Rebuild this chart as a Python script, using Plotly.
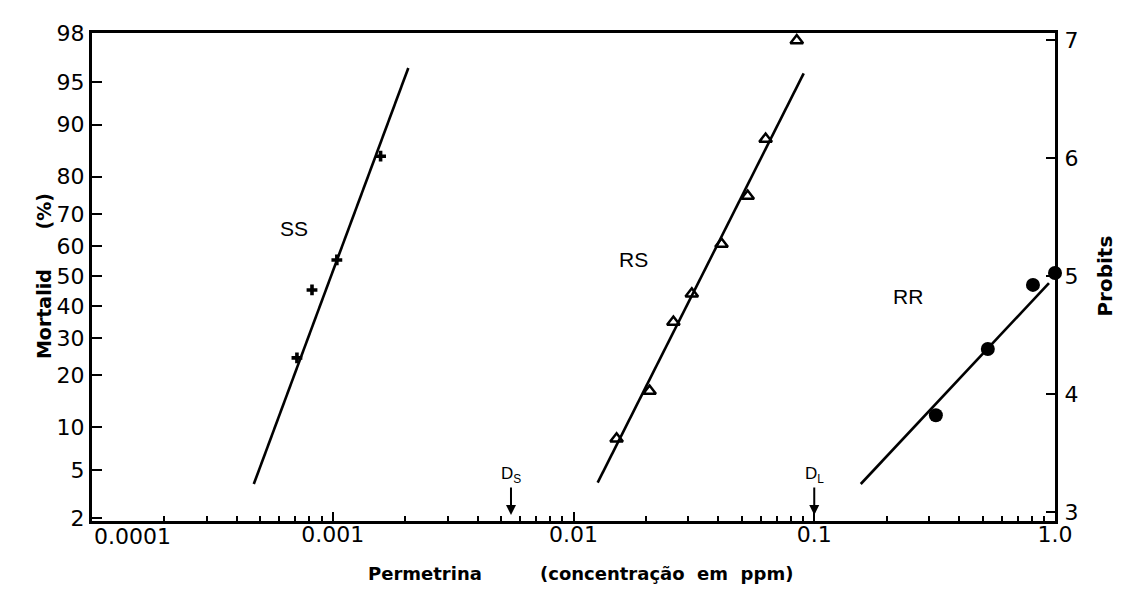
import math
import statistics
import plotly.graph_objects as go

# ---------------- data ----------------
pct_ticks = [2, 5, 10, 20, 30, 40, 50, 60, 70, 80, 90, 95, 98]
probit_ticks = [3, 4, 5, 6, 7]
x_major = [0.001, 0.01, 0.1, 1.0]
x_major_text = ["0.001", "0.01", "0.1", "1.0"]

ss_conc = [0.00071, 0.00082, 0.00104, 0.00158]
ss_mort = [24.4, 45.3, 55.4, 84.5]
ss_fit_conc = [0.00047, 0.00206]
ss_fit_mort = [3.9, 96.1]

rs_conc = [0.0151, 0.0207, 0.0260, 0.0310, 0.0412, 0.0529, 0.0628, 0.0846]
rs_mort = [8.4, 16.5, 34.8, 44.0, 60.7, 75.1, 87.7, 97.7]
rs_fit_conc = [0.0126, 0.0904]
rs_fit_mort = [4.0, 95.7]

rr_conc = [0.320, 0.526, 0.810, 1.0]
rr_mort = [11.9, 26.8, 47.0, 51.0]
rr_fit_conc = [0.156, 0.944]
rr_fit_mort = [3.9, 47.6]

d_s = 0.0055
d_l = 0.1

curve_names = ["SS", "RS", "RR"]
curve_label_conc = [0.00069, 0.0178, 0.245]
curve_label_mort = [65.5, 55.4, 43.0]

# ---------------- helpers ----------------
nd = statistics.NormalDist()


def probit(p):
    return 5 + nd.inv_cdf(p / 100.0)


Y_RANGE = [2.924, 7.059]
FONT = "DejaVu Sans"
TICKSIZE = 22

fig = go.Figure()


def add_series(conc, mort, fit_conc, fit_mort, marker):
    fig.add_trace(go.Scatter(
        x=fit_conc, y=[probit(m) for m in fit_mort], mode="lines",
        line=dict(color="black", width=2.6), showlegend=False,
        hoverinfo="skip"))
    fig.add_trace(go.Scatter(
        x=conc, y=[probit(m) for m in mort], mode="markers",
        marker=marker, showlegend=False, cliponaxis=False))


add_series(ss_conc, ss_mort, ss_fit_conc, ss_fit_mort,
           dict(symbol="cross", size=9, color="black", line=dict(width=0)))
add_series(rs_conc, rs_mort, rs_fit_conc, rs_fit_mort,
           dict(symbol="triangle-up-open", size=11, color="black",
                line=dict(width=2.5, color="black")))
add_series(rr_conc, rr_mort, rr_fit_conc, rr_fit_mort,
           dict(symbol="circle", size=14, color="black"))

# invisible trace on right axis so it is drawn
fig.add_trace(go.Scatter(x=[1e-4], y=[5], yaxis="y2", mode="markers",
                         marker=dict(opacity=0), showlegend=False,
                         hoverinfo="skip"))

minor_vals = [k * 10 ** e for e in range(-4, 0) for k in range(2, 10)]

fig.update_layout(
    width=1127, height=589,
    margin=dict(l=84, r=80, t=25, b=76),
    paper_bgcolor="white", plot_bgcolor="white",
    font=dict(family=FONT, color="black", size=TICKSIZE),
    xaxis=dict(
        type="log", range=[-4, 0],
        tickvals=x_major, ticktext=x_major_text,
        ticks="inside", ticklen=9, tickwidth=2, tickcolor="black",
        showline=True, linewidth=2.5, linecolor="black", mirror=True,
        showgrid=False, zeroline=False,
        ticklabelstandoff=-8,
        tickfont=dict(family=FONT, size=TICKSIZE),
        minor=dict(tickvals=minor_vals, ticks="inside", ticklen=5,
                   tickwidth=1.5, tickcolor="black", showgrid=False),
    ),
    yaxis=dict(
        range=Y_RANGE,
        tickvals=[probit(p) for p in pct_ticks],
        ticktext=[str(p) for p in pct_ticks],
        ticks="inside", ticklen=10, tickwidth=2, tickcolor="black",
        showline=True, linewidth=3, linecolor="black",
        showgrid=False, zeroline=False,
        ticklabelstandoff=0,
        tickfont=dict(family=FONT, size=TICKSIZE),
    ),
    yaxis2=dict(
        range=Y_RANGE, overlaying="y", side="right",
        tickvals=probit_ticks, ticktext=[str(v) for v in probit_ticks],
        ticks="inside", ticklen=9, tickwidth=2, tickcolor="black",
        showline=True, linewidth=3, linecolor="black",
        showgrid=False, zeroline=False,
        ticklabelstandoff=2,
        tickfont=dict(family=FONT, size=TICKSIZE),
    ),
)

ann = []
# left-aligned first x tick label
ann.append(dict(x=-4, y=-0.032, xref="x", yref="paper", text="0.0001",
                showarrow=False, xanchor="left", yanchor="middle",
                font=dict(family=FONT, size=TICKSIZE)))
# curve labels
for txt, cx, cm in zip(curve_names, curve_label_conc, curve_label_mort):
    ann.append(dict(x=math.log10(cx), y=probit(cm), xref="x", yref="y", text=txt,
                    showarrow=False, font=dict(family="Liberation Sans", size=21)))
# dose arrows
for lab, dx in [("D<sub>S</sub>", d_s), ("D<sub>L</sub>", d_l)]:
    ann.append(dict(x=math.log10(dx), y=2.975, xref="x", yref="y", text=lab,
                    showarrow=True, ax=0, ay=-40, arrowhead=2, arrowsize=1,
                    arrowwidth=2, arrowcolor="black", standoff=0,
                    font=dict(family="Liberation Sans", size=17)))
# axis titles
ann.append(dict(x=-0.0633, y=0.502, xref="paper", yref="paper",
                text="<b>Mortalid      (%)</b>", textangle=-90, showarrow=False,
                font=dict(family=FONT, size=19)))
ann.append(dict(x=1.066, y=0.502, xref="paper", yref="paper",
                text="<b>Probits</b>", textangle=-90, showarrow=False,
                font=dict(family=FONT, size=20)))
ann.append(dict(x=0.346, y=-0.133, xref="paper", yref="paper",
                text="<b>Permetrina</b>", showarrow=False,
                font=dict(family=FONT, size=18)))
ann.append(dict(x=0.597, y=-0.133, xref="paper", yref="paper",
                text="<b>(concentração  em  ppm)</b>", showarrow=False,
                font=dict(family=FONT, size=18)))
fig.update_layout(annotations=ann)

fig.write_html("out.html")
